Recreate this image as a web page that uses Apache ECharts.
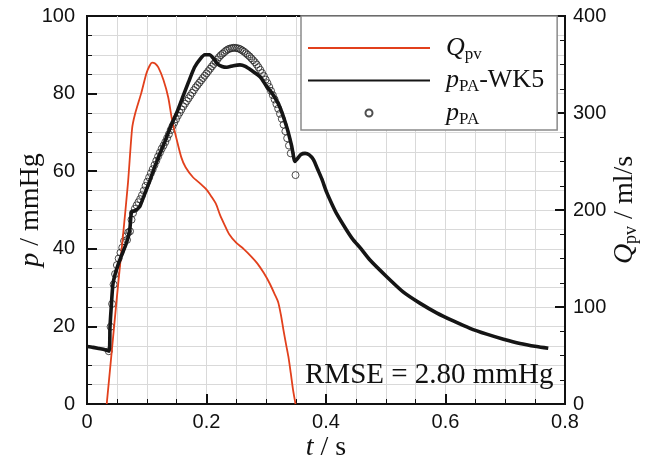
<!DOCTYPE html>
<html><head><meta charset="utf-8">
<script src="https://cdn.jsdelivr.net/npm/echarts@6/dist/echarts.min.js"></script>
<style>html,body{margin:0;padding:0;background:#fff}#c{width:656px;height:456px}</style>
</head><body><div id="c"></div>
<script>
// ---- data ----
const xTickLabels = ['0', '0.2', '0.4', '0.6', '0.8'];
const pTickLabels = ['0', '20', '40', '60', '80', '100'];
const qTickLabels = ['0', '100', '200', '300', '400'];

// Q_pv (ml/s), right axis
const tQ = [0.033,0.040,0.050,0.060,0.0686,0.0755,0.080,0.091,0.0995,0.105,0.109,0.114,0.1194,0.128,0.136,0.142,0.150,0.158,0.165,0.177,0.190,0.200,0.208,0.216,0.2226,0.230,0.238,0.250,0.262,0.275,0.285,0.296,0.306,0.315,0.320,0.3245,0.3286,0.333,0.337,0.341,0.345,0.349];
const qPV = [0,45,110,172,228,284,298,321,341,349,352,351,347,334,316,294,273,254,244,234,227,221,214,206,195,185,175,166,160,152,145,135,124,112,105,92,77,62,49,32,14,0];

// p_PA-WK5 (mmHg)
const tWK5 = [0,0.01,0.02,0.03,0.037,0.0385,0.041,0.0435,0.049,0.057,0.066,0.0715,0.0745,0.080,0.088,0.095,0.105,0.113,0.122,0.130,0.140,0.150,0.160,0.170,0.180,0.190,0.197,0.205,0.212,0.218,0.226,0.234,0.245,0.256,0.265,0.275,0.290,0.300,0.310,0.322,0.334,0.3425,0.348,0.352,0.358,0.365,0.372,0.379,0.386,0.393,0.401,0.410,0.418,0.4346,0.4456,0.457,0.4736,0.5016,0.529,0.557,0.585,0.613,0.641,0.669,0.697,0.7247,0.7526,0.772];
const pWK5 = [14.8,14.6,14.3,14.0,13.6,20.0,26.0,31.0,34.5,38.0,41.5,44.8,49.5,49.8,50.8,53.5,57.5,61.0,64.5,67.5,71.5,75.0,79.0,83.0,86.8,89.0,90.0,90.0,89.0,87.7,87.0,86.8,87.2,87.4,87.0,86.0,84.3,82.0,80.0,76.8,71.5,66.5,62.5,63.2,64.3,64.6,64.2,63.0,60.5,58.0,54.6,51.5,49.0,44.8,42.3,40.3,37.1,32.8,28.9,26.0,23.5,21.4,19.5,18.0,16.7,15.6,14.8,14.35];

// p_PA measured (mmHg), circles
const tPA = [0.0365,0.0395,0.042,0.0445,0.047,0.050,0.053,0.056,0.059,0.062,0.065,0.067,0.069,0.072,0.0745,0.077,0.080,0.083,0.086,0.089,0.092,0.095,0.098,0.101,0.104,0.107,0.110,0.113,0.116,0.119,0.122,0.125,0.128,0.131,0.134,0.137,0.140,0.143,0.146,0.149,0.152,0.155,0.158,0.161,0.164,0.167,0.170,0.173,0.176,0.179,0.182,0.185,0.188,0.191,0.194,0.197,0.200,0.203,0.206,0.209,0.212,0.215,0.218,0.221,0.224,0.227,0.230,0.233,0.236,0.239,0.242,0.245,0.248,0.251,0.254,0.257,0.260,0.263,0.266,0.269,0.272,0.275,0.278,0.281,0.284,0.287,0.290,0.293,0.296,0.299,0.302,0.305,0.308,0.311,0.314,0.317,0.320,0.323,0.326,0.329,0.332,0.335,0.338,0.341,0.349];
const pPA = [13.6,19.9,25.8,30.8,33.5,35.8,37.5,39.0,40.3,42.0,43.2,42.3,44.2,44.5,47.5,49.2,50.3,51.2,52.0,52.8,53.8,55.0,56.2,57.3,58.4,59.5,60.5,61.6,62.7,63.8,64.8,65.8,66.6,67.5,68.5,69.5,70.6,71.6,72.5,73.4,74.3,75.1,75.9,76.7,77.4,78.1,78.8,79.5,80.2,80.9,81.6,82.2,82.8,83.4,84.0,84.6,85.2,85.8,86.4,87.0,87.6,88.2,88.8,89.4,89.9,90.3,90.7,91.1,91.4,91.6,91.7,91.8,91.8,91.7,91.6,91.4,91.1,90.8,90.4,90.0,89.6,89.1,88.6,88.1,87.5,86.8,86.1,85.3,84.5,83.6,82.7,81.7,80.7,79.6,78.5,77.3,76.1,74.8,73.5,72.0,70.3,68.5,66.6,64.6,59.0];

const rmseText = 'RMSE = 2.80 mmHg';

// ---- chart ----
const SERIF = '"Liberation Serif","Times New Roman",serif';
const SANS = '"Liberation Sans",Arial,sans-serif';
const INK = '#111';
const GRID = '#d9d9d9';
const zip = (a, b) => a.map((v, i) => [v, b[i]]);

const nameRich = {
  i: {fontFamily: SERIF, fontStyle: 'italic', fontSize: 28, lineHeight: 30, color: INK},
  n: {fontFamily: SERIF, fontSize: 28, lineHeight: 30, color: INK},
  s: {fontFamily: SERIF, fontSize: 18, lineHeight: 12, verticalAlign: 'bottom', color: INK}
};
const legRich = {
  g: {width: 11, fontSize: 26, lineHeight: 30},
  i: {fontFamily: SERIF, fontStyle: 'italic', fontSize: 26, lineHeight: 30, color: INK},
  n: {fontFamily: SERIF, fontSize: 26, lineHeight: 30, color: INK},
  s: {fontFamily: SERIF, fontSize: 17, lineHeight: 12, verticalAlign: 'bottom', color: INK}
};
const legendText = {
  'Qpv': '{g| }{i|Q}{s|pv}',
  'pPA-WK5': '{g| }{i|p}{s|PA}{n|-WK5}',
  'pPA': '{g| }{i|p}{s|PA}'
};
const noSymbol = {color: 'rgba(0,0,0,0)', borderColor: 'rgba(0,0,0,0)', borderWidth: 0, opacity: 0};

function axisCommon(labels, step, margin) {
  return {
    axisLine: {show: true, onZero: false, lineStyle: {color: INK, width: 2}},
    axisTick: {show: true, inside: true, length: 10, lineStyle: {color: INK, width: 2}},
    minorTick: {show: true, splitNumber: 4, length: 5, lineStyle: {color: INK, width: 1}},
    axisLabel: {fontFamily: SANS, fontSize: 20, color: INK, margin: margin,
      formatter: v => labels[Math.round(v / step)]},
    nameMoveOverlap: false
  };
}

const chart = echarts.init(document.getElementById('c'), null, {renderer: 'canvas'});
chart.setOption({
  animation: false,
  backgroundColor: '#fff',
  grid: {left: 87, top: 16, width: 478, height: 388, outerBoundsMode: 'none', containLabel: false,
    show: true, borderColor: INK, borderWidth: 2, backgroundColor: 'transparent'},
  xAxis: [Object.assign(axisCommon(xTickLabels, 0.2, 8), {
    type: 'value', min: 0, max: 0.8, interval: 0.2, position: 'bottom',
    splitLine: {show: true, showMinLine: false, showMaxLine: false, lineStyle: {color: GRID, width: 1}},
    minorSplitLine: {show: true, lineStyle: {color: GRID, width: 1}},
    name: '{i|t}{n| / s}', nameLocation: 'middle', nameGap: 29,
    nameTextStyle: {rich: nameRich}
  })],
  yAxis: [
    Object.assign(axisCommon(pTickLabels, 20, 12), {
      type: 'value', min: 0, max: 100, interval: 20, position: 'left',
      splitLine: {show: true, showMinLine: false, showMaxLine: false, lineStyle: {color: GRID, width: 1}},
      minorSplitLine: {show: true, lineStyle: {color: GRID, width: 1}},
      name: '{i|p}{n| / mmHg}', nameLocation: 'middle', nameRotate: 90, nameGap: 41,
      nameTextStyle: {rich: nameRich}
    }),
    Object.assign(axisCommon(qTickLabels, 100, 8), {
      type: 'value', min: 0, max: 400, interval: 100, position: 'right',
      splitLine: {show: false},
      name: '{i|Q}{s|pv}{n| / ml/s}', nameLocation: 'middle', nameRotate: 90, nameGap: 45,
      nameTextStyle: {rich: nameRich}
    })
  ],
  legend: {
    orient: 'vertical', left: 301, top: 16,
    itemWidth: 122, itemHeight: 7, itemGap: 2.5,
    padding: [17, 13, 2, 6],
    backgroundColor: '#fff', borderColor: '#8a8a8a', borderWidth: 1.5,
    selectedMode: false,
    textStyle: {fontSize: 26, lineHeight: 30, rich: legRich},
    formatter: n => legendText[n],
    data: [
      {name: 'Qpv', itemStyle: noSymbol},
      {name: 'pPA-WK5', itemStyle: noSymbol},
      {name: 'pPA'}
    ]
  },
  graphic: [{
    type: 'text', left: 305, top: 361, z: 10,
    style: {text: rmseText, font: '29px "Liberation Serif", serif', fill: INK}
  }],
  series: [
    {
      name: 'Qpv', type: 'line', yAxisIndex: 1, data: zip(tQ, qPV),
      symbol: 'none', smooth: 0.25, lineStyle: {color: '#e2401c', width: 1.8}, itemStyle: {color: '#e2401c'}, z: 3
    },
    {
      name: 'pPA', type: 'scatter', data: zip(tPA, pPA),
      symbol: 'circle', symbolSize: 7,
      itemStyle: {color: 'rgba(255,255,255,0)', borderColor: '#222', borderWidth: 1}, z: 2
    },
    {
      name: 'pPA-WK5', type: 'line', data: zip(tWK5, pWK5),
      symbol: 'none', smooth: 0.2, lineStyle: {color: '#151515', width: 3.6}, itemStyle: {color: '#151515'}, z: 4
    }
  ]
});
</script>
</body></html>
